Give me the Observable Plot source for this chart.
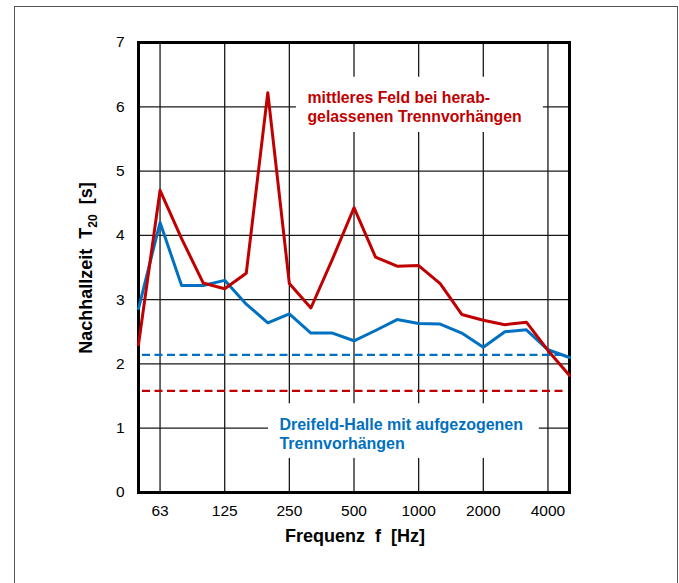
<!DOCTYPE html>
<html><head><meta charset="utf-8">
<script src="https://cdn.jsdelivr.net/npm/d3@7"></script>
<script src="https://cdn.jsdelivr.net/npm/@observablehq/plot@0.6"></script>
<style>
html,body{margin:0;padding:0;background:#fff;overflow:hidden;}
#wrap{position:relative;width:679px;height:583px;overflow:hidden;}
#wrap svg{display:block;}
#border{position:absolute;left:13.5px;top:5.5px;width:662px;height:600px;border:1.5px solid #555;pointer-events:none;}
</style></head><body><div id="wrap"></div>
<script>
// Third-octave bands (Hz)
const bands = ["50","63","80","100","125","160","200","250","315","400","500","630","800","1000","1250","1600","2000","2500","3150","4000","5000"];
const tickBands = ["63","125","250","500","1000","2000","4000"];
const yTicks = [0,1,2,3,4,5,6,7];
const yGrid = [1,2,3,4,5,6];
// mittleres Feld bei herabgelassenen Trennvorhängen
const herabgelassen = [2.30,4.70,3.95,3.26,3.17,3.41,6.22,3.25,2.87,3.63,4.43,3.66,3.52,3.53,3.25,2.77,2.68,2.61,2.65,2.21,1.82];
// Dreifeld-Halle mit aufgezogenen Trennvorhängen
const aufgezogen = [2.86,4.20,3.22,3.22,3.30,2.93,2.64,2.78,2.48,2.48,2.36,2.52,2.69,2.63,2.62,2.48,2.26,2.50,2.53,2.22,2.10];
// dashed reference levels
const sollAuf = 2.14;
const sollHerab = 1.58;

const RED = "#C00000", BLUE = "#0070C0";
const redRows = bands.map((b,i) => ({i, t: herabgelassen[i]}));
const blueRows = bands.map((b,i) => ({i, t: aufgezogen[i]}));
const tickIdx = tickBands.map(b => bands.indexOf(b));

const svg = Plot.plot({
  width: 679, height: 583,
  marginLeft: 138, marginRight: 110, marginTop: 42, marginBottom: 91,
  style: {fontFamily: "'Liberation Sans', Arial, sans-serif", fontSize: "15.5px", color: "#000", background: "transparent"},
  x: {type: "linear", domain: [0, bands.length - 1], ticks: tickIdx, tickFormat: i => bands[i], tickSize: 0, tickPadding: 12, label: null},
  y: {domain: [0, 7], ticks: yTicks, tickFormat: d => String(d), tickSize: 0, tickPadding: 14, label: null},
  marks: [
    Plot.ruleX(tickIdx, {stroke: "#1a1a1a", strokeWidth: 1.3}),
    Plot.ruleY(yGrid, {stroke: "#1a1a1a", strokeWidth: 1.3}),
    Plot.rect([0], {x1: 7.33, x2: 18.79, y1: 5.6, y2: 6.46, fill: "white"}),
    Plot.rect([0], {x1: 6.03, x2: 18.6, y1: 0.53, y2: 1.38, fill: "white"}),
    Plot.frame({stroke: "#000", strokeWidth: 3}),
    Plot.ruleY([sollAuf], {stroke: BLUE, strokeWidth: 2.2, strokeDasharray: "8,4.5", insetLeft: 4, insetRight: 3}),
    Plot.ruleY([sollHerab], {stroke: RED, strokeWidth: 2.2, strokeDasharray: "8,4.5", insetLeft: 4, insetRight: 3}),
    Plot.line(blueRows, {x: "i", y: "t", stroke: BLUE, strokeWidth: 3, strokeLinejoin: "round"}),
    Plot.line(redRows, {x: "i", y: "t", stroke: RED, strokeWidth: 3, strokeLinejoin: "round"}),
    Plot.text(["mittleres Feld bei herab-\ngelassenen Trennvorhängen"], {x: 7.84, y: 6.275, text: d => d, textAnchor: "start", lineAnchor: "top", lineHeight: 1.2, fill: RED, fontSize: 15.8, fontWeight: "bold"}),
    Plot.text(["Dreifeld-Halle mit aufgezogenen\nTrennvorhängen"], {x: 6.54, y: 1.19, text: d => d, textAnchor: "start", lineAnchor: "top", lineHeight: 1.22, fill: BLUE, fontSize: 16, fontWeight: "bold"})
  ]
});

const s = d3.select(svg);
// y axis title with subscript
const yt = s.append("text")
  .attr("transform", "translate(92,268) rotate(-90)")
  .attr("text-anchor", "middle")
  .attr("font-size", 18).attr("font-weight", "bold")
  .attr("fill", "#000")
  .style("white-space", "pre");
yt.append("tspan").text("Nachhallzeit  T");
yt.append("tspan").attr("font-size", 12).attr("dy", 5).text("20");
yt.append("tspan").attr("dy", -5).text("  [s]");
// x axis title
s.append("text")
  .attr("x", 355).attr("y", 542)
  .attr("text-anchor", "middle")
  .attr("font-size", 18).attr("font-weight", "bold")
  .attr("fill", "#000")
  .style("white-space", "pre")
  .text("Frequenz  f  [Hz]");

const wrap = document.getElementById("wrap");
wrap.appendChild(svg);
const b = document.createElement("div");
b.id = "border";
wrap.appendChild(b);
</script>
</body></html>
